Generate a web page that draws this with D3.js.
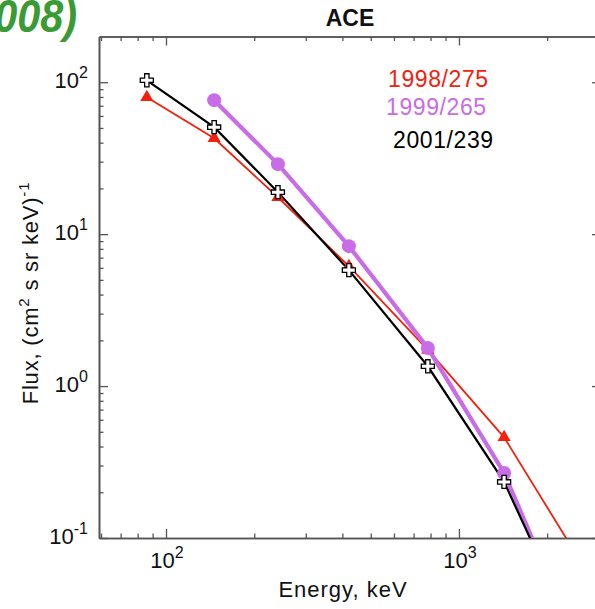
<!DOCTYPE html>
<html>
<head>
<meta charset="utf-8">
<script src="https://cdn.jsdelivr.net/npm/d3@7"></script>
<style>
  html, body { margin: 0; padding: 0; background: #fff; }
  svg { display: block; }
  text { font-family: "Liberation Sans", Arial, Helvetica, sans-serif; }
</style>
</head>
<body>
<svg id="chart" width="595" height="609"></svg>
<script>
// ---- data ----
const energy   = [86, 146, 241, 421, 783, 1426, 2600];          // keV
const flux1998 = [79.6, 42.8, 17.5, 6.15, 1.73, 0.46, 0.07];
const flux1999 = [null, 76.2, 28.9, 8.34, 1.78, 0.268, 0.018];
const flux2001 = [103, 50.6, 18.9, 5.8, 1.35, 0.234, 0.019];
const seriesNames = ["1998/275", "1999/265", "2001/239"];
const xMajorTicks = [100, 1000];
const yMajorTicks = [0.1, 1, 10, 100];
const xTickExp = ["2", "3"];
const yTickExp = ["-1", "0", "1", "2"];
const titleText = "ACE";
const xLabel = "Energy, keV";
const cornerText = "(2008)";

// ---- layout ----
const svg = d3.select("#chart");
const L = 99, R = 601, T = 36.5, B = 538;
const x = d3.scaleLog().domain([59.06, 3054]).range([L, R]);
const y = d3.scaleLog().domain([0.1, 200]).range([B, T]);

const colors = { r: "#f4200e", p: "#c86ce8", k: "#000000" };
const axisColor = "#555";

// minor tick values
function minors(domain) {
  const out = [];
  const lo = Math.floor(Math.log10(domain[0])), hi = Math.ceil(Math.log10(domain[1]));
  for (let e = lo; e <= hi; e++) for (let m = 2; m <= 9; m++) {
    const v = m * Math.pow(10, e);
    if (v > domain[0] && v < domain[1]) out.push(v);
  }
  return out;
}
const xMinor = minors(x.domain());
const yMinor = minors(y.domain());

function styleAxis(g) {
  g.selectAll("path").attr("stroke", axisColor).attr("stroke-width", 1.6);
  g.selectAll("line").attr("stroke", axisColor).attr("stroke-width", 1.3);
  g.selectAll("text").remove();
}

// bottom / top / left / right axes (ticks pointing inward)
svg.append("g").attr("transform", `translate(0,${B})`)
  .call(d3.axisBottom(x).tickValues(xMinor).tickSize(-4.5).tickSizeOuter(0)).call(styleAxis);
svg.append("g").attr("transform", `translate(0,${B})`)
  .call(d3.axisBottom(x).tickValues(xMajorTicks).tickSize(-9).tickSizeOuter(0)).call(styleAxis);
svg.append("g").attr("transform", `translate(0,${T})`)
  .call(d3.axisTop(x).tickValues(xMinor).tickSize(-4.5).tickSizeOuter(0)).call(styleAxis);
svg.append("g").attr("transform", `translate(0,${T})`)
  .call(d3.axisTop(x).tickValues(xMajorTicks).tickSize(-9).tickSizeOuter(0)).call(styleAxis);
svg.append("g").attr("transform", `translate(${L},0)`)
  .call(d3.axisLeft(y).tickValues(yMinor).tickSize(-4.5).tickSizeOuter(0)).call(styleAxis);
svg.append("g").attr("transform", `translate(${L},0)`)
  .call(d3.axisLeft(y).tickValues(yMajorTicks).tickSize(-9).tickSizeOuter(0)).call(styleAxis);
svg.append("g").attr("transform", `translate(${R},0)`)
  .call(d3.axisRight(y).tickValues(yMinor).tickSize(-4.5).tickSizeOuter(0)).call(styleAxis);
svg.append("g").attr("transform", `translate(${R},0)`)
  .call(d3.axisRight(y).tickValues(yMajorTicks).tickSize(-9).tickSizeOuter(0)).call(styleAxis);

// tick labels with superscripts
xMajorTicks.forEach((v, i) => {
  const t = svg.append("text").attr("x", x(v) + 1).attr("y", 568)
    .attr("text-anchor", "middle").attr("font-size", 22).attr("fill", "#111");
  t.append("tspan").text("10");
  t.append("tspan").attr("font-size", 16).attr("dy", -10).text(xTickExp[i]);
});
yMajorTicks.forEach((v, i) => {
  const t = svg.append("text").attr("x", 88).attr("y", y(v) + 6)
    .attr("text-anchor", "end").attr("font-size", 22).attr("fill", "#111");
  t.append("tspan").text("10");
  t.append("tspan").attr("font-size", 16).attr("dy", -10).text(yTickExp[i]);
});

// axis titles
svg.append("text").attr("x", 343).attr("y", 597).attr("text-anchor", "middle")
  .attr("font-size", 22).attr("letter-spacing", 1).attr("fill", "#111").text(xLabel);

const yl = svg.append("text").attr("transform", "translate(38,293) rotate(-90)")
  .attr("text-anchor", "middle").attr("font-size", 22).attr("letter-spacing", 0.8).attr("fill", "#111");
yl.append("tspan").text("Flux, (cm");
yl.append("tspan").attr("font-size", 15).attr("dy", -9).text("2");
yl.append("tspan").attr("dy", 9).text(" s sr keV)");
yl.append("tspan").attr("font-size", 15).attr("dy", -9).text("-1");

svg.append("text").attr("x", 350).attr("y", 25.5).attr("text-anchor", "middle")
  .attr("font-size", 23).attr("font-weight", "bold").attr("fill", "#111").text(titleText);

svg.append("text").attr("transform", "translate(77,32) scale(0.9,1)").attr("text-anchor", "end")
  .attr("font-size", 46).attr("font-weight", "bold").attr("font-style", "italic")
  .attr("fill", "#3a9a33").text(cornerText);

// legend
const legendY = [87, 115, 147.5];
const legendX = [388, 386, 393];
const legendC = [colors.r, colors.p, colors.k];
seriesNames.forEach((n, i) => {
  svg.append("text").attr("x", legendX[i]).attr("y", legendY[i]).attr("font-size", 23)
    .attr("letter-spacing", 0.6).attr("fill", legendC[i]).text(n);
});

// ---- data marks ----
svg.append("clipPath").attr("id", "plotclip").append("rect")
  .attr("x", L).attr("y", T).attr("width", R - L).attr("height", B - T);
const plot = svg.append("g").attr("clip-path", "url(#plotclip)");

function pts(arr) {
  return energy.map((e, i) => ({ e, f: arr[i] })).filter(d => d.f != null);
}
const line = d3.line().x(d => x(d.e)).y(d => y(d.f));

const sR = pts(flux1998), sP = pts(flux1999), sK = pts(flux2001);

plot.append("path").datum(sR).attr("d", line).attr("fill", "none")
  .attr("stroke", colors.r).attr("stroke-width", 1.8);
plot.append("path").datum(sP).attr("d", line).attr("fill", "none")
  .attr("stroke", colors.p).attr("stroke-width", 4.2);
plot.append("path").datum(sK).attr("d", line).attr("fill", "none")
  .attr("stroke", colors.k).attr("stroke-width", 2.2);

// red triangles
plot.selectAll(".tri").data(sR).enter().append("path")
  .attr("transform", d => `translate(${x(d.e)},${y(d.f)})`)
  .attr("d", d3.symbol().type(d3.symbolTriangle).size(75))
  .attr("fill", colors.r);

// purple circles
plot.selectAll(".dot").data(sP).enter().append("circle")
  .attr("cx", d => x(d.e)).attr("cy", d => y(d.f)).attr("r", 7)
  .attr("fill", colors.p);

// black open crosses
plot.selectAll(".crs").data(sK).enter().append("path")
  .attr("transform", d => `translate(${x(d.e)},${y(d.f)})`)
  .attr("d", d3.symbol().type(d3.symbolCross).size(95))
  .attr("fill", "#fff").attr("stroke", "#000").attr("stroke-width", 1.3);
</script>
</body>
</html>
